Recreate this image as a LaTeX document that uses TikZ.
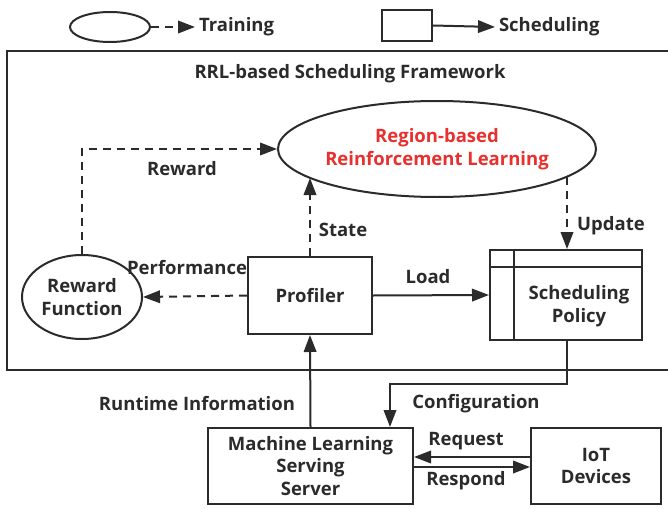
\documentclass[tikz,border=0pt]{standalone}
\usepackage{fontspec}
\setmainfont{Open Sans}
\usetikzlibrary{arrows.meta,shapes.geometric}
\definecolor{ink}{HTML}{2B2B2B}
\definecolor{rlred}{HTML}{E8302E}
\begin{document}
\begin{tikzpicture}[x=1pt,y=-1pt, line width=2pt, draw=ink,
  font=\fontsize{18.5}{22.5}\selectfont\bfseries, text=ink,
  box/.style={draw, rectangle, inner sep=0pt, align=center},
  oval/.style={draw, ellipse, inner sep=0pt, align=center},
  tip/.style={-{Triangle[length=17pt,width=12.5pt]}},
  dsh/.style={dash pattern=on 8pt off 6pt},
  lbl/.style={inner sep=0pt, align=center}]
\useasboundingbox[fill=white] (0,0) rectangle (668,508);
% legend
\node[oval, minimum width=80, minimum height=30] (legE) at (110,27) {};
\node[lbl, anchor=west] (legT) at (198,27) {Training};
\draw[dsh, tip] (legE.east) -- ([xshift=-3pt]legT.west);
\node[box, minimum width=50, minimum height=31] (legR) at (407,25.5) {};
\node[lbl, anchor=west] (legS) at (498,27) {Scheduling};
\draw[tip] (legR.east) -- ([xshift=-3pt]legS.west);
% frame
\draw (7,51) rectangle (680,370);
\node[lbl] (title) at (350,74) {RRL-based Scheduling Framework};
% main nodes
\node[oval, minimum width=318, minimum height=96, text=rlred] (rl) at (437,149) {Region-based\\Reinforcement Learning};
\node[oval, minimum width=120, minimum height=84] (rf) at (82,297) {Reward\\Function};
\node[box, minimum width=124, minimum height=77] (prof) at (310,295.5) {Profiler};
\node[box, minimum width=152, minimum height=90] (sp) at (566,295) {};
\draw ([xshift=25pt]sp.north west) -- ([xshift=25pt]sp.south west);
\draw ([yshift=-18pt]sp.north west) -- ([yshift=-18pt]sp.north east);
\node[lbl] (spt) at (579,306) {Scheduling\\Policy};
\node[box, minimum width=205, minimum height=76] (ml) at (310.5,466) {Machine Learning\\Serving\\Server};
\node[box, minimum width=130, minimum height=76] (iot) at (596,466) {IoT\\Devices};
% connectors
\draw[dsh, tip] (rf.north) |- (rl.west);
\node[lbl] (lrew) at (182,169) {Reward};
\coordinate (stE) at (310,178);
\draw[dsh, tip] (prof.north) -- (stE);
\node[lbl] (lst) at (343,230) {State};
\coordinate (upS) at (567,177);
\draw[dsh, tip] (upS) -- (upS |- sp.north);
\node[lbl] (lup) at (611,226) {Update};
\draw[dsh, tip] (prof.west) -- (rf.east);
\node[lbl] (lperf) at (187,268) {Performance};
\draw[tip] (prof.east) -- (sp.west);
\node[lbl] (lload) at (428,277) {Load};
\draw[tip] (ml.north) -- (prof.south);
\node[lbl] (lrt) at (197,404) {Runtime Information};
\coordinate (cfg) at (390,384);
\draw[tip] (upS |- sp.south) |- (cfg) -- (cfg |- ml.north);
\node[lbl] (lcfg) at (476,404) {Configuration};
\draw[tip] ([yshift=9pt]iot.west) -- ([yshift=9pt]ml.east);
\node[lbl] (lreq) at (466,441) {Request};
\draw[tip] ([yshift=-1pt]ml.east) -- ([yshift=-1pt]iot.west);
\node[lbl] (lresp) at (466,481) {Respond};
\end{tikzpicture}
\end{document}
